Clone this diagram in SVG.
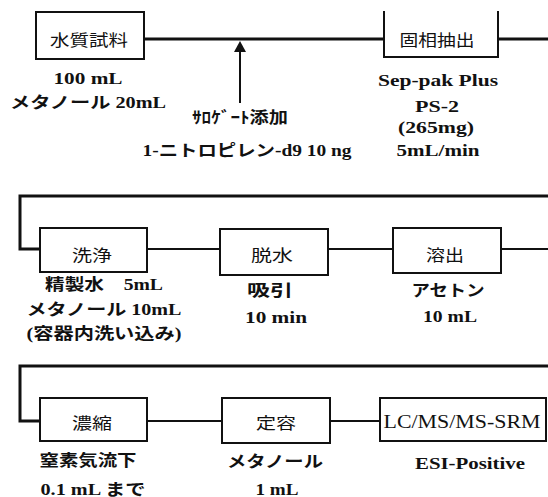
<svg xmlns="http://www.w3.org/2000/svg" width="548" height="497" viewBox="0 0 548 497">
<defs>
<style>
.box{fill:#fff;stroke:#111;stroke-width:2}
.main{fill:none;stroke:#111;stroke-width:3}
.link{fill:none;stroke:#111;stroke-width:2}
.lbl{font-family:"Noto Sans CJK JP","Noto Sans",sans-serif;font-size:16px;fill:#111;text-anchor:middle}
.lc{font-family:"Liberation Serif","Noto Sans CJK JP",serif;font-size:19px;fill:#111;text-anchor:middle}
.t{font-family:"Liberation Serif","Noto Sans CJK JP",serif;font-weight:bold;font-size:16px;fill:#111;text-anchor:middle}
</style>
</defs>
<rect width="548" height="497" fill="#fff"/>
<g id="connectors">
<path class="main" d="M144,39 H384 M498,39 H548"/>
<path class="main" d="M548,196 H20 V249 H40"/>
<path class="link" d="M147,249 H220 M328,249 H393 M501,249 H548"/>
<path class="main" d="M548,366 H20 V421 H40"/>
<path class="link" d="M147,421 H222 M330,421 H380"/>
<path class="link" d="M240,103 V50"/>
<polygon points="240,41 246,52 234,52" fill="#111"/>
</g>
<g id="n-sample">
<rect class="box" x="36" y="12" width="108" height="47"/>
<text class="lbl" x="89" y="46" textLength="78" lengthAdjust="spacingAndGlyphs">水質試料</text>
<text class="t" x="88" y="84" textLength="69" lengthAdjust="spacingAndGlyphs">100 mL</text>
<text class="t" x="88" y="108" textLength="156" lengthAdjust="spacingAndGlyphs">メタノール 20mL</text>
</g>
<g id="n-surrogate">
<text class="t" x="240" y="123" textLength="96" lengthAdjust="spacingAndGlyphs">ｻﾛｹﾞｰﾄ添加</text>
<text class="t" x="247" y="156" textLength="209" lengthAdjust="spacingAndGlyphs">1-ニトロピレン-d9 10 ng</text>
</g>
<g id="n-spe">
<path class="box" d="M384,11 V57 H498 V11" fill="none"/>
<text class="lbl" x="437" y="46" textLength="75" lengthAdjust="spacingAndGlyphs">固相抽出</text>
<text class="t" x="438" y="86" textLength="120" lengthAdjust="spacingAndGlyphs">Sep-pak Plus</text>
<text class="t" x="437" y="112" textLength="44" lengthAdjust="spacingAndGlyphs">PS-2</text>
<text class="t" x="436" y="133" textLength="76" lengthAdjust="spacingAndGlyphs">(265mg)</text>
<text class="t" x="438" y="156" textLength="83" lengthAdjust="spacingAndGlyphs">5mL/min</text>
</g>
<g id="n-wash">
<rect class="box" x="40" y="228" width="107" height="44"/>
<text class="lbl" x="92" y="261" textLength="40" lengthAdjust="spacingAndGlyphs">洗浄</text>
<text class="t" x="104" y="290" textLength="118" lengthAdjust="spacingAndGlyphs">精製水　5mL</text>
<text class="t" x="104" y="315" textLength="155" lengthAdjust="spacingAndGlyphs">メタノール 10mL</text>
<text class="t" x="104" y="339" textLength="155" lengthAdjust="spacingAndGlyphs">(容器内洗い込み)</text>
</g>
<g id="n-dry">
<rect class="box" x="220" y="229" width="108" height="46"/>
<text class="lbl" x="272" y="261" textLength="42" lengthAdjust="spacingAndGlyphs">脱水</text>
<text class="t" x="270" y="296" textLength="46" lengthAdjust="spacingAndGlyphs">吸引</text>
<text class="t" x="276" y="323" textLength="62" lengthAdjust="spacingAndGlyphs">10 min</text>
</g>
<g id="n-elute">
<rect class="box" x="393" y="228" width="108" height="45"/>
<text class="lbl" x="445" y="261" textLength="38" lengthAdjust="spacingAndGlyphs">溶出</text>
<text class="t" x="448" y="296" textLength="73" lengthAdjust="spacingAndGlyphs">アセトン</text>
<text class="t" x="450" y="322" textLength="54" lengthAdjust="spacingAndGlyphs">10 mL</text>
</g>
<g id="n-conc">
<rect class="box" x="40" y="398" width="107" height="43"/>
<text class="lbl" x="92" y="429" textLength="40" lengthAdjust="spacingAndGlyphs">濃縮</text>
<text class="t" x="88" y="466" textLength="97" lengthAdjust="spacingAndGlyphs">窒素気流下</text>
<text class="t" x="93" y="495" textLength="105" lengthAdjust="spacingAndGlyphs">0.1 mL まで</text>
</g>
<g id="n-vol">
<rect class="box" x="222" y="398" width="108" height="45"/>
<text class="lbl" x="276" y="429" textLength="40" lengthAdjust="spacingAndGlyphs">定容</text>
<text class="t" x="275" y="467" textLength="96" lengthAdjust="spacingAndGlyphs">メタノール</text>
<text class="t" x="277" y="495" textLength="43" lengthAdjust="spacingAndGlyphs">1 mL</text>
</g>
<g id="n-lcms">
<rect class="box" x="380" y="398" width="166" height="43"/>
<text class="lc" x="462" y="428" textLength="157" lengthAdjust="spacingAndGlyphs">LC/MS/MS-SRM</text>
<text class="t" x="470" y="469" textLength="110" lengthAdjust="spacingAndGlyphs">ESI-Positive</text>
</g>
</svg>
